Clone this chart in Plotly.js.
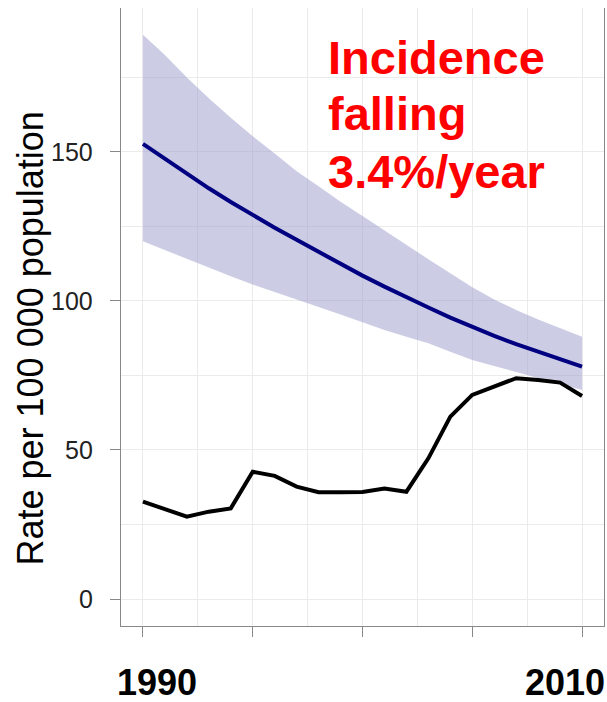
<!DOCTYPE html>
<html>
<head>
<meta charset="utf-8">
<script src="https://cdn.plot.ly/plotly-3.0.1.min.js"></script>
<style>html,body{margin:0;padding:0;background:#fff;}#chart{width:607px;height:702px;}</style>
</head>
<body>
<div id="chart"></div>
<script>
var years = [1990,1991,1992,1993,1994,1995,1996,1997,1998,1999,2000,2001,2002,2003,2004,2005,2006,2007,2008,2009,2010];
var incidenceEstimate = [152.7,147.6,142.6,137.8,133.2,128.8,124.6,120.5,116.5,112.4,108.5,104.8,101.2,97.8,94.4,91.2,88.3,85.5,82.9,80.4,78.0];
var incidenceUpper = [189.3,182.5,175.0,168.0,161.5,155.3,149.5,143.5,138.5,133.3,128.5,123.6,118.8,114.0,109.3,104.6,100.5,97.0,93.8,90.8,88.0];
var incidenceLower = [120.0,117.0,114.0,111.2,108.3,105.5,103.0,100.6,98.0,95.5,92.8,90.3,88.0,85.8,83.0,80.2,78.2,76.2,74.2,72.2,70.1];
var notifications = [32.7,30.2,27.6,29.3,30.4,42.7,41.3,37.7,35.8,35.8,35.9,37.1,36.0,47.2,61.2,68.5,71.2,74.1,73.5,72.6,68.1];
var yTickVals = [0,50,100,150];
var xLabelYears = ["1990","2010"];
var annotationLines = ["Incidence","falling","3.4%/year"];
var yTitle = "Rate per 100 000 population";

var traces = [
  {x: years, y: incidenceLower, type: 'scatter', mode: 'lines', line: {width: 0, color: 'rgba(0,0,0,0)'}, hoverinfo: 'skip', showlegend: false},
  {x: years, y: incidenceUpper, type: 'scatter', mode: 'lines', fill: 'tonexty', fillcolor: 'rgba(153,153,204,0.5)', line: {width: 0, color: 'rgba(0,0,0,0)'}, showlegend: false},
  {x: years, y: incidenceEstimate, type: 'scatter', mode: 'lines', line: {color: '#000080', width: 4}, showlegend: false},
  {x: years, y: notifications, type: 'scatter', mode: 'lines', line: {color: '#000000', width: 4}, showlegend: false}
];

var fam = 'Liberation Sans, Arial, sans-serif';
var lineY = [57, 114, 171];
var annotations = [];
annotationLines.forEach(function(t, i){
  annotations.push({text: t, xref: 'paper', yref: 'paper', x: (326-121)/483, y: (626-lineY[i])/618,
    xanchor: 'left', yanchor: 'middle', showarrow: false,
    font: {family: fam, size: 47, color: '#FF0000', weight: 'bold'}});
});
var labelX = [157, 565];
xLabelYears.forEach(function(t, i){
  annotations.push({text: '<b>' + t + '</b>', xref: 'paper', yref: 'paper', x: (labelX[i]-121)/483, y: (626-682)/618,
    xanchor: 'center', yanchor: 'middle', showarrow: false,
    font: {family: fam, size: 36, color: '#000000'}});
});
yTickVals.forEach(function(v){
  annotations.push({text: String(v), xref: 'paper', yref: 'y', x: (95-121)/483, y: v,
    xanchor: 'right', yanchor: 'middle', showarrow: false,
    font: {family: fam, size: 25, color: '#222222'}});
});
annotations.push({text: yTitle, xref: 'paper', yref: 'paper', x: (29.5-121)/483, y: (626-339)/618,
  xanchor: 'center', yanchor: 'middle', showarrow: false, textangle: -90,
  font: {family: fam, size: 36, color: '#000000'}});

var layout = {
  width: 607, height: 702,
  margin: {l: 121, r: 3, t: 8, b: 76, pad: 0},
  paper_bgcolor: '#ffffff', plot_bgcolor: '#ffffff',
  font: {family: fam},
  xaxis: {
    range: [1989, 2011], tickvals: [1990,1995,2000,2005,2010], showticklabels: false,
    ticks: 'outside', ticklen: 10, tickcolor: '#888', tickwidth: 1,
    showgrid: true, gridcolor: '#ebebeb', gridwidth: 1,
    minor: {dtick: 2.5, tick0: 1990, showgrid: true, gridcolor: '#ebebeb', gridwidth: 1},
    showline: true, linecolor: '#888', linewidth: 1.3, zeroline: false, fixedrange: true
  },
  yaxis: {
    range: [-9.06, 198.3], tickvals: yTickVals, showticklabels: false,
    ticks: 'outside', ticklen: 10, tickcolor: '#888', tickwidth: 1,
    showgrid: true, gridcolor: '#ebebeb', gridwidth: 1,
    minor: {dtick: 25, tick0: 0, showgrid: true, gridcolor: '#ebebeb', gridwidth: 1},
    showline: true, mirror: true, linecolor: '#888', linewidth: 1.3, zeroline: false, fixedrange: true
  },
  annotations: annotations
};
Plotly.newPlot('chart', traces, layout, {displayModeBar: false, staticPlot: true});
</script>
</body>
</html>
